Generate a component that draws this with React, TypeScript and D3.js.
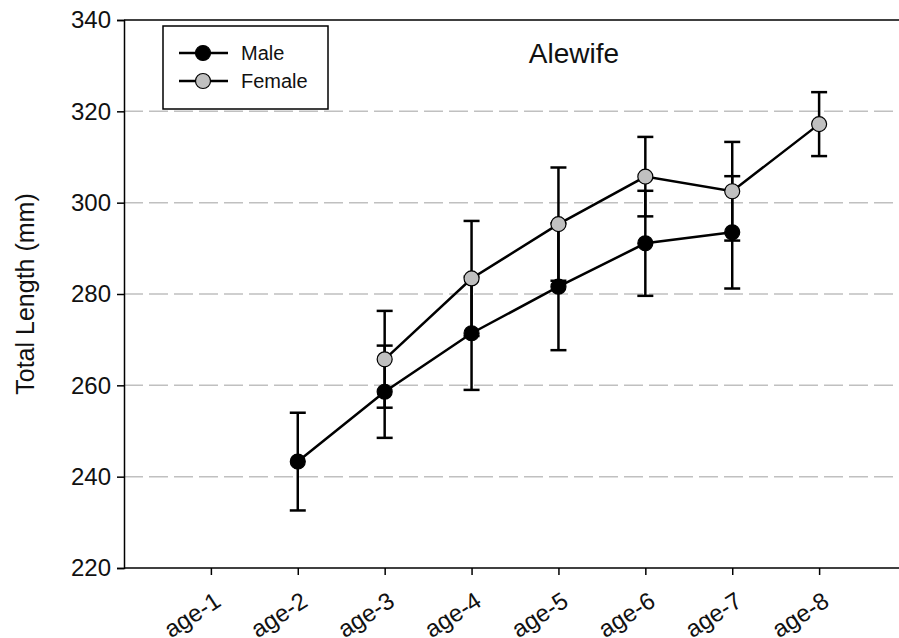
import { useRef, useEffect } from 'react';
import * as d3 from 'd3';

const ages = ['age-1', 'age-2', 'age-3', 'age-4', 'age-5', 'age-6', 'age-7', 'age-8'];

// [age index (1-based), mean, sd]
const maleData: [number, number, number][] = [
  [2, 243.3, 10.7],
  [3, 258.6, 10.1],
  [4, 271.4, 12.4],
  [5, 281.6, 13.9],
  [6, 291.1, 11.5],
  [7, 293.5, 12.3],
];

const femaleData: [number, number, number][] = [
  [3, 265.7, 10.6],
  [4, 283.4, 12.6],
  [5, 295.3, 12.4],
  [6, 305.7, 8.7],
  [7, 302.5, 10.8],
  [8, 317.2, 7.0],
];

const yTicks = [220, 240, 260, 280, 300, 320, 340];
const gridValues = [240, 260, 280, 300, 320];

const W = 899;
const H = 638;
const font = 'Arial, "Liberation Sans", sans-serif';

const AlewifeChart = () => {
  const svgRef = useRef<SVGSVGElement>(null);

  useEffect(() => {
    const svg = d3.select(svgRef.current)
      .attr('width', W)
      .attr('height', H);

    svg.selectAll('*').remove();

    const x = d3.scaleLinear().domain([0, 9]).range([124, 906]);
    const y = d3.scaleLinear().domain([220, 340]).range([568, 20]);

    // grid
    svg.append('g')
      .selectAll('line')
      .data(gridValues)
      .join('line')
      .attr('x1', 124)
      .attr('x2', W)
      .attr('y1', d => y(d))
      .attr('y2', d => y(d))
      .attr('stroke', '#c0c0c0')
      .attr('stroke-width', 1.5)
      .attr('stroke-dasharray', '19,6');

    // top frame line
    svg.append('line')
      .attr('x1', 124).attr('x2', W)
      .attr('y1', y(340)).attr('y2', y(340))
      .attr('stroke', 'black').attr('stroke-width', 1.5);

    // y axis
    const yAxis = svg.append('g')
      .attr('transform', 'translate(124,0)')
      .call(d3.axisLeft(y).tickValues(yTicks).tickSize(7).tickPadding(6).tickFormat(d3.format('d')));
    yAxis.select('.domain').attr('stroke-width', 1.5);
    yAxis.selectAll('.tick line').attr('stroke-width', 1.5);
    yAxis.selectAll('.tick text')
      .attr('font-family', font)
      .attr('font-size', 24)
      .attr('fill', '#111');

    // x axis
    const xAxis = svg.append('g')
      .attr('transform', 'translate(0,568)')
      .call(d3.axisBottom(x)
        .tickValues(d3.range(1, ages.length + 1))
        .tickSize(7)
        .tickFormat(d => ages[(d as number) - 1]));
    xAxis.select('.domain').attr('d', `M124,0H${W}`).attr('stroke-width', 1.5);
    xAxis.selectAll('.tick line').attr('stroke-width', 1.5);
    xAxis.selectAll('.tick text')
      .attr('font-family', font)
      .attr('font-size', 24)
      .attr('fill', '#111')
      .attr('text-anchor', 'end')
      .attr('dy', null)
      .attr('y', 0)
      .attr('transform', 'translate(11,37) rotate(-33)');

    // y label
    svg.append('text')
      .attr('transform', `translate(34,${(y(220) + y(340)) / 2}) rotate(-90)`)
      .attr('text-anchor', 'middle')
      .attr('font-family', font)
      .attr('font-size', 25)
      .attr('fill', '#111')
      .text('Total Length (mm)');

    // title
    svg.append('text')
      .attr('x', 574)
      .attr('y', 63)
      .attr('text-anchor', 'middle')
      .attr('font-family', font)
      .attr('font-size', 28)
      .attr('fill', '#111')
      .text('Alewife');

    const series = [
      { data: maleData, fill: 'black' },
      { data: femaleData, fill: '#c0c0c0' },
    ];

    // error bars
    series.forEach(s => {
      const g = svg.append('g').attr('stroke', 'black').attr('stroke-width', 2.5);
      s.data.forEach(([a, m, sd]) => {
        g.append('line')
          .attr('x1', x(a)).attr('x2', x(a))
          .attr('y1', y(m - sd)).attr('y2', y(m + sd));
        [m - sd, m + sd].forEach(v => {
          g.append('line')
            .attr('x1', x(a) - 8).attr('x2', x(a) + 8)
            .attr('y1', y(v)).attr('y2', y(v));
        });
      });
    });

    const line = d3.line<[number, number, number]>()
      .x(d => x(d[0]))
      .y(d => y(d[1]));

    series.forEach(s => {
      svg.append('path')
        .datum(s.data)
        .attr('d', line)
        .attr('fill', 'none')
        .attr('stroke', 'black')
        .attr('stroke-width', 2.5);
    });

    series.forEach(s => {
      svg.append('g')
        .selectAll('circle')
        .data(s.data)
        .join('circle')
        .attr('cx', d => x(d[0]))
        .attr('cy', d => y(d[1]))
        .attr('r', 7.5)
        .attr('fill', s.fill)
        .attr('stroke', 'black')
        .attr('stroke-width', 1.2);
    });

    // legend
    const lg = svg.append('g');
    lg.append('rect')
      .attr('x', 163).attr('y', 26)
      .attr('width', 165).attr('height', 83)
      .attr('fill', 'white')
      .attr('stroke', 'black')
      .attr('stroke-width', 1.5);
    const items = [
      { label: 'Male', fill: 'black', cy: 53 },
      { label: 'Female', fill: '#c0c0c0', cy: 81 },
    ];
    items.forEach(it => {
      lg.append('line')
        .attr('x1', 179).attr('x2', 228)
        .attr('y1', it.cy).attr('y2', it.cy)
        .attr('stroke', 'black').attr('stroke-width', 2.5);
      lg.append('circle')
        .attr('cx', 203).attr('cy', it.cy).attr('r', 7.5)
        .attr('fill', it.fill).attr('stroke', 'black').attr('stroke-width', 1.2);
      lg.append('text')
        .attr('x', 241).attr('y', it.cy + 7)
        .attr('font-family', font)
        .attr('font-size', 20)
        .attr('fill', '#111')
        .text(it.label);
    });
  }, []);

  return <svg ref={svgRef} style={{ display: 'block', position: 'absolute', left: 0, top: 0 }}></svg>;
};

export default function App() {
  return <AlewifeChart />;
}
